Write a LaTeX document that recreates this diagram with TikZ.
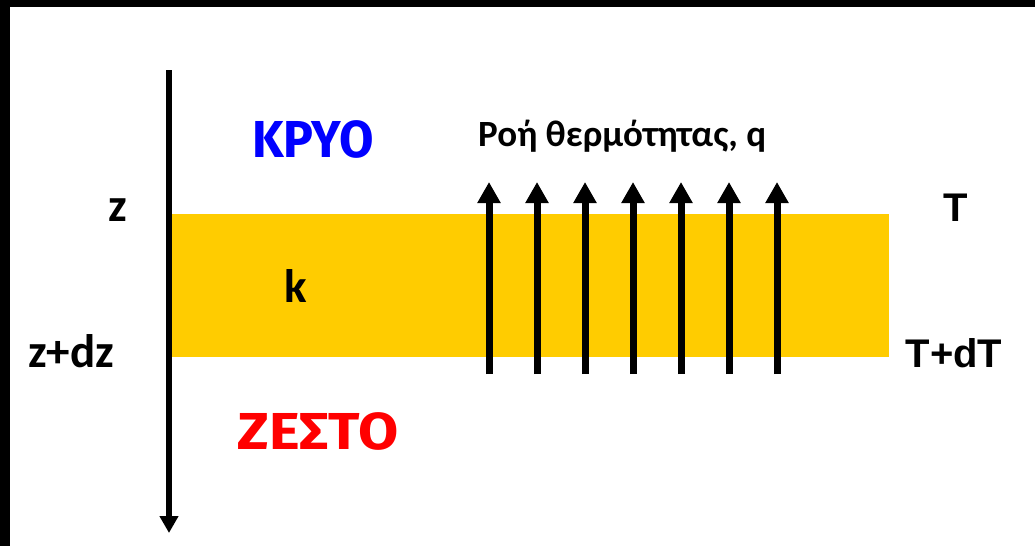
\documentclass[tikz,border=0pt]{standalone}
\usepackage{fontspec}
\setmainfont{Carlito}
\newfontfamily\arialf{Liberation Sans}
\newfontfamily\comicf{Fira Sans}
\usetikzlibrary{arrows.meta}
\definecolor{slab}{HTML}{FFCC00}
\begin{document}
\begin{tikzpicture}[x=1pt,y=-1pt,
  lbl/.style={inner sep=0pt,anchor=base,font=\fontsize{47}{47}\selectfont\bfseries},
  tlbl/.style={inner sep=0pt,anchor=base,font=\fontsize{40}{40}\selectfont\arialf\bfseries},
  big/.style={inner sep=0pt,font=\fontsize{52}{52}\selectfont\comicf\bfseries},
  flux/.style={line width=7pt,-{Triangle[length=21pt,width=22pt]}},
  axis/.style={line width=6pt,-{Triangle[length=17pt,width=18pt]}}]
\useasboundingbox (0,0) rectangle (1035,546);
\fill[white] (0,0) rectangle (1035,546);
\fill[black] (0,0) rectangle (1035,7);
\fill[black] (0,0) rectangle (10,546);
\fill[slab] (172,214) rectangle (889,357);
\coordinate (atop) at (169,70);
\coordinate (abot) at (169,533);
\draw[axis] (atop) -- (abot);
\foreach \i in {0,...,6}{
  \coordinate (f\i s) at (489+48*\i,374);
  \coordinate (f\i e) at (489+48*\i,182);
  \draw[flux] (f\i s) -- (f\i e);
}
\node[big,text=blue] (cold) at (313,139) {\scalebox{0.96}[1]{ΚΡΥΟ}};
\node[big,text=red] (hot) at (318,431) {\scalebox{1.12}[1]{ΖΕΣΤΟ}};
\node[inner sep=0pt,anchor=base west,font=\fontsize{37}{37}\selectfont\bfseries] (q) at (478,146) {Ροή θερμότητας, q};
\node[lbl] (z) at (118,221) {z};
\node[lbl] (zdz) at (71,367) {z+dz};
\node[lbl] (k) at (296,302) {k};
\node[tlbl] (T) at (956,221) {T};
\node[tlbl] (TdT) at (954,367) {T+dT};
\end{tikzpicture}
\end{document}
